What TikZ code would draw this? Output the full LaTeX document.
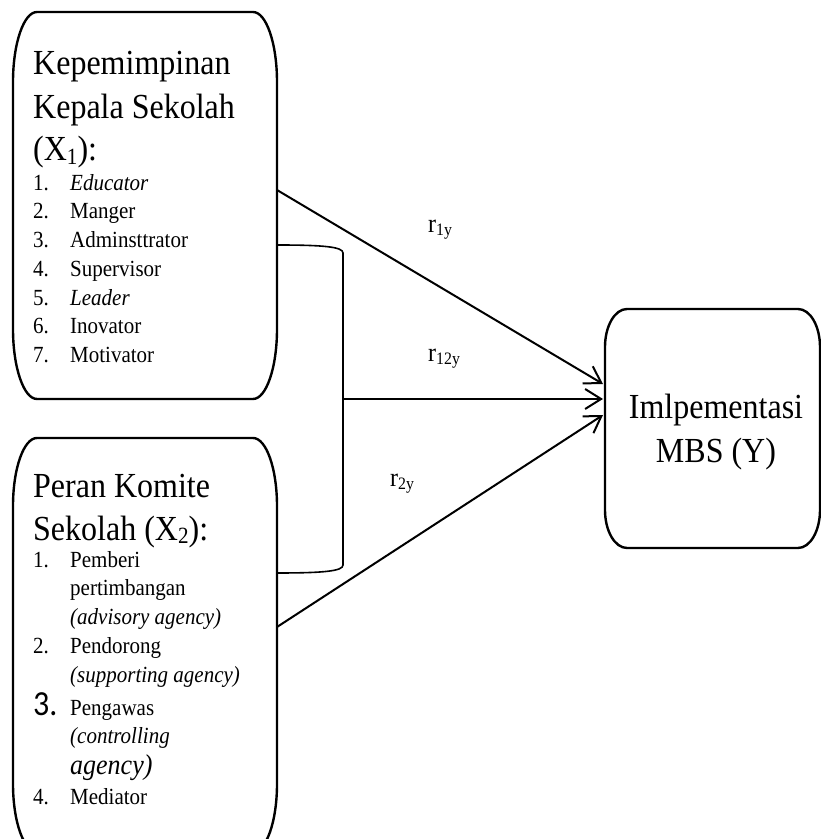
\documentclass[tikz,border=0pt]{standalone}
\usepackage{fontspec}
\setmainfont{Liberation Serif}
\newfontfamily\calibrifont{Carlito}
\usetikzlibrary{arrows.meta}

\tikzset{
  boxline/.style={line width=2.4pt},
  area/.style={inner sep=0pt, outer sep=0pt, anchor=north west},
  heading/.style={inner sep=0pt, anchor=north west, align=left, yscale=1.1, font=\fontsize{32}{38.5}\selectfont},
  items/.style={inner sep=0pt, anchor=north west, align=left, yscale=1.1, font=\fontsize{21}{26.1}\selectfont},
  coef/.style={inner sep=0pt, anchor=base west, yscale=1.1, font=\fontsize{24}{28}\selectfont},
  link/.style={line width=2pt, -{Straight Barb[length=16pt,width=20pt]}},
}
\newcommand{\num}[1]{\makebox[37pt][l]{#1}}
\newcommand{\sub}[1]{\raisebox{-0.1em}{\scalebox{0.66}{#1}}}
% outline with oval corners round an empty node
\newcommand{\ovalframe}[3]{%
  \draw[boxline] ([xshift=#2]#1.north west) -- ([xshift=-#2]#1.north east)
    arc[start angle=90, end angle=0, x radius=#2, y radius=#3]
    -- ([yshift=#3]#1.south east)
    arc[start angle=0, end angle=-90, x radius=#2, y radius=#3]
    -- ([xshift=#2]#1.south west)
    arc[start angle=270, end angle=180, x radius=#2, y radius=#3]
    -- ([yshift=-#3]#1.north west)
    arc[start angle=180, end angle=90, x radius=#2, y radius=#3]
    -- cycle;}

\begin{document}
\begin{tikzpicture}[x=1pt, y=1pt]
  \useasboundingbox (0,0) rectangle (821,839);

  % boxes
  \node[area, minimum width=264pt, minimum height=387pt] (kep) at (13,827) {};
  \node[area, minimum width=264pt, minimum height=414pt] (komite) at (13,401) {};
  \node[area, minimum width=215pt, minimum height=239pt] (mbs) at (605,530) {};
  \ovalframe{kep}{24pt}{70pt}
  \ovalframe{komite}{24pt}{68pt}
  \ovalframe{mbs}{22pt}{38pt}

  % texts
  \node[heading] (kephead) at (33,788) {Kepemimpinan\\[1.5pt]Kepala Sekolah\\(X\sub{1}):};
  \node[items] (keplist) at (33,665) {\num{1.}\textit{Educator}\\
    \num{2.}Manger\\
    \num{3.}Adminsttrator\\
    \num{4.}Supervisor\\
    \num{5.}\textit{Leader}\\
    \num{6.}Inovator\\
    \num{7.}Motivator};
  \node[heading] (komitehead) at (33,365) {Peran Komite\\[0.5pt]Sekolah (X\sub{2}):};
  \node[items] (komitelist) at (33,288) {\num{1.}Pemberi\\
    \num{}pertimbangan\\
    \num{}\textit{(advisory agency)}\\
    \num{2.}Pendorong\\
    \num{}\textit{(supporting agency)}\\[4pt]
    \num{\calibrifont\fontsize{32}{32}\selectfont 3.}Pengawas\\
    \num{}\textit{(controlling}\\[2pt]
    \num{}{\fontsize{26}{30}\selectfont\itshape agency)}\\[1pt]
    \num{4.}Mediator};
  \node[heading, anchor=north, align=center, font=\fontsize{32}{40}\selectfont] (mbstext) at (716,445.5) {Imlpementasi\\MBS (Y)};

  % bracket joining both boxes
  \draw[line width=1.6pt] (277,594) .. controls (325,594) and (343,592) .. (343,586)
    -- (343,274) .. controls (343,268) and (325,266) .. (277,266);
  \coordinate (fork) at (343,440);

  % arrows
  \draw[link] ([yshift=15.5pt]kep.east) -- ([shift={(-2pt,44.5pt)}]mbs.west);
  \draw[link] (fork) -- ([shift={(-2pt,29.5pt)}]mbs.west);
  \draw[link] ([yshift=18pt]komite.east) -- ([shift={(-2pt,13.5pt)}]mbs.west);

  \node[coef] (r1y) at (428,606) {r\sub{1y}};
  \node[coef] (r12y) at (428,477) {r\sub{12y}};
  \node[coef] (r2y) at (390,352) {r\sub{2y}};
\end{tikzpicture}
\end{document}
